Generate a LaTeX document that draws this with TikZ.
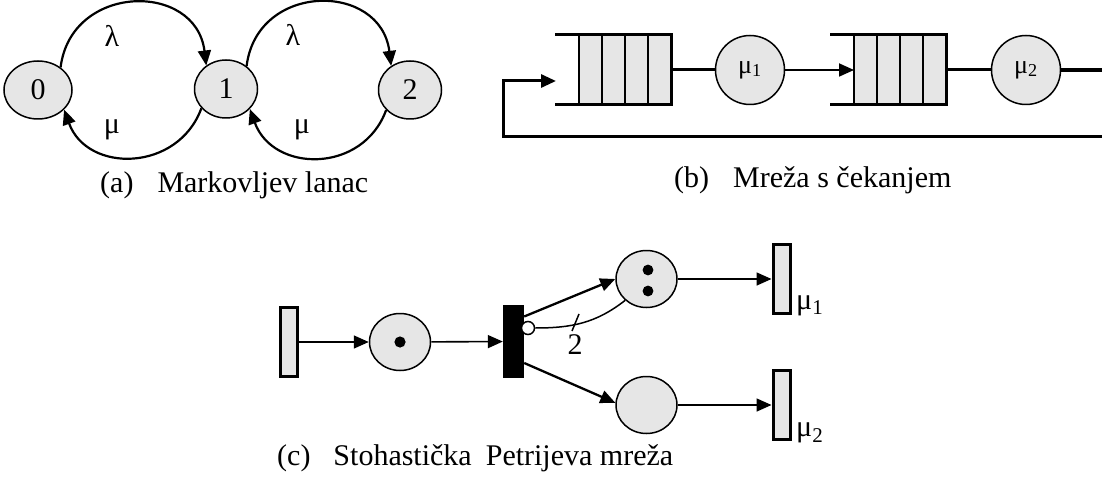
\documentclass[tikz,border=0pt]{standalone}
\usepackage{fontspec}
\setmainfont{Liberation Serif}
\usetikzlibrary{arrows.meta,shapes.geometric}
\definecolor{lgray}{HTML}{E6E6E6}
\begin{document}
\begin{tikzpicture}[x=1pt,y=1pt,
  every node/.style={font=\fontsize{30}{36}\selectfont},
  state/.style={ellipse, draw, line width=1.5pt, fill=lgray, minimum width=63pt, minimum height=58pt, inner sep=0pt},
  tip/.style={-{Triangle[length=15pt,width=13pt]}},
  arca/.style={tip, line width=2.2pt},
  lbl/.style={inner sep=0pt},
  qcells/.style={rectangle, draw, line width=2.5pt, fill=lgray, minimum width=92pt, minimum height=70pt, inner sep=0pt, outer sep=0pt,
    path picture={\foreach \i in {1,2,3}{\draw[line width=2.5pt] ([xshift=\i*23pt]path picture bounding box.south west) -- ([xshift=\i*23pt]path picture bounding box.north west);}}},
  qline/.style={line width=3pt, line cap=rect},
  server/.style={circle, draw, line width=1.5pt, fill=lgray, minimum size=69pt, inner sep=0pt, font=\fontsize{26}{30}\selectfont},
  thickln/.style={line width=3pt},
  trans/.style={rectangle, draw, line width=3pt, fill=lgray, minimum width=17pt, minimum height=69pt, inner sep=0pt},
  place/.style={ellipse, draw, line width=1.5pt, fill=lgray, minimum width=61pt, minimum height=57pt, inner sep=0pt},
  arrc/.style={tip, line width=1.6pt},
  arrd/.style={tip, line width=2.3pt},
  captext/.style={anchor=base west, inner sep=0pt}
]
\path[use as bounding box, fill=white] (0,0) rectangle (1102,-481);

% (a) Markov chain
\node[state, minimum width=68pt] (n0) at (38,-90) {0};
\node[state] (n1) at (226,-89) {1};
\node[state] (n2) at (410,-90) {2};
\draw[arca] (n0.45) .. controls +(83:85) and +(97:85) .. (n1.130);
\draw[arca] (n1.48) .. controls +(83:85) and +(97:85) .. (n2.128);
\draw[arca] (n1.218) .. controls +(250:68) and +(290:68) .. (n0.323);
\draw[arca] (n2.220) .. controls +(250:68) and +(290:68) .. (n1.320);
\node[lbl] (la1) at (112,-36) {λ};
\node[lbl] (la2) at (293,-35) {λ};
\node[lbl] (mu1) at (112,-130) {μ};
\node[lbl] (mu2) at (302,-130) {μ};
\node[captext] (capa) at (100,-193) {(a)\hspace{24pt}Markovljev lanac};

% (b) queueing network
\node[qcells] (q1) at (625,-70) {};
\node[qcells] (q2) at (900,-70) {};
\draw[qline] ([xshift=-23pt]q1.north west) -- (q1.north east) -- (q1.south east) -- ([xshift=-23pt]q1.south west);
\draw[qline] ([xshift=-23pt]q2.north west) -- (q2.north east) -- (q2.south east) -- ([xshift=-23pt]q2.south west);
\node[server] (s1) at (750,-70) {μ\textsubscript{1}};
\node[server] (s2) at (1026,-70) {μ\textsubscript{2}};
\coordinate (outR) at (1102,-70);
\coordinate (fbR) at (1102,-137);
\coordinate (fbL) at (503,-137);
\coordinate (q1in) at (556,-81);
\draw[thickln] (q1.east) -- (s1);
\draw[tip, line width=1.8pt] (s1) -- (q2.west);
\draw[thickln] (q2.east) -- (s2);
\draw[line width=3.3pt] (s2) -- (outR);
\draw[tip, thickln] (fbR) -- (fbL) |- (q1in);
\node[captext] (capb) at (674,-187) {(b)\hspace{24pt}Mreža s čekanjem};

% (c) stochastic Petri net
\node[trans] (t0) at (289,-342) {};
\node[place] (p1) at (400,-342) {};
\node[rectangle, fill=black, minimum width=21pt, minimum height=73pt, inner sep=0pt] (tb) at (513.5,-341.5) {};
\node[place] (p2) at (646.5,-279) {};
\node[place] (p3) at (646.5,-405) {};
\node[trans] (t1) at (781.5,-279) {};
\node[trans] (t2) at (781.5,-405) {};
\node[circle, draw, line width=1.5pt, fill=white, minimum size=13pt, inner sep=0pt] (inh) at (528,-328) {};
\fill (p1.center) circle (5.6pt);
\fill ([yshift=9pt]p2.center) ++(1.5,0) circle (5.4pt);
\fill ([yshift=-12pt]p2.center) ++(1.5,0) circle (5.4pt);
\draw[arrc] (t0) -- (p1);
\draw[arrc] (p1) -- (tb);
\draw[arrd] ([yshift=25pt]tb.east) -- (p2.180);
\draw[arrd] ([yshift=-21.5pt]tb.east) -- (p3.176);
\draw[arrc] (p2) -- (t1);
\draw[arrc] (p3) -- (t2);
\draw[line width=1.5pt] (p2.225) to[out=218, in=0] (inh.east);
\draw[line width=1.5pt] (579,-314) -- (572,-331);
\node[lbl] (w2) at (575,-345) {2};
\node[lbl, anchor=west] (lm1) at (796,-306) {μ\textsubscript{1}};
\node[lbl, anchor=west] (lm2) at (796,-433) {μ\textsubscript{2}};
\node[captext] (capc) at (277,-465) {(c)\hspace{23pt}Stohastička\hspace{14pt}Petrijeva mreža};
\end{tikzpicture}
\end{document}
